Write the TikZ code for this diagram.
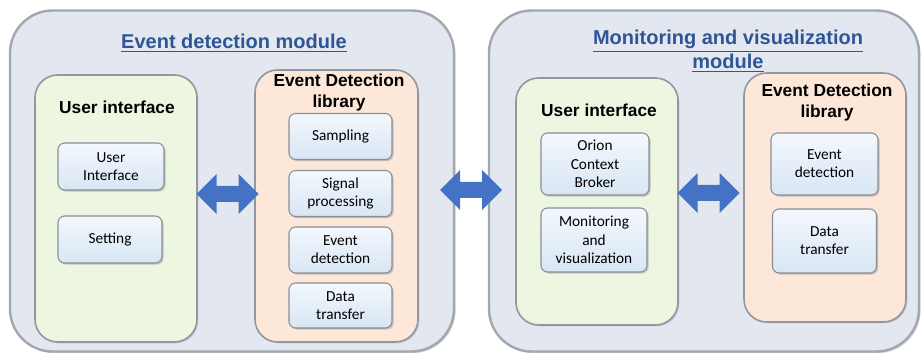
\documentclass[tikz,border=0pt]{standalone}
\usepackage{fontspec}
\setmainfont{Carlito}
\newfontfamily\arialf{Liberation Sans}
\usetikzlibrary{shadows}
\definecolor{outerfill}{HTML}{E3E8F0}
\definecolor{outerdraw}{HTML}{A3A8AF}
\definecolor{greenfill}{HTML}{EDF6E1}
\definecolor{orangefill}{HTML}{FCE7D9}
\definecolor{innertop}{HTML}{F3F8FD}
\definecolor{innerbot}{HTML}{D8E6F4}
\definecolor{innerdraw}{HTML}{8A8F96}
\definecolor{titleblue}{HTML}{2F5597}
\definecolor{arrowblue}{HTML}{4472C4}
\tikzset{
  module/.style={draw=outerdraw, line width=1.8pt, fill=outerfill, rounded corners=32pt,
    drop shadow={shadow xshift=1.2pt, shadow yshift=-1.2pt, opacity=0.35}},
  group/.style={draw=outerdraw!90!black, line width=1.2pt, rounded corners=17pt,
    drop shadow={shadow xshift=1pt, shadow yshift=-1pt, opacity=0.3}},
  uigroup/.style={group, fill=greenfill},
  libgroup/.style={group, fill=orangefill},
  item/.style={draw=innerdraw, line width=0.8pt, rounded corners=5pt, top color=innertop,
    bottom color=innerbot, align=center, inner sep=0pt,
    font=\fontsize{11.5pt}{13.7pt}\selectfont,
    drop shadow={shadow xshift=1.2pt, shadow yshift=-1.2pt, opacity=0.4}},
  modtitle/.style={align=center, text=titleblue, font=\arialf\bfseries\fontsize{15pt}{18pt}\selectfont},
  grptitle/.style={align=center, text=black, font=\arialf\bfseries\fontsize{13pt}{15.75pt}\selectfont},
  bigarrow/.style={fill=arrowblue, draw=none}
}
\begin{document}
\begin{tikzpicture}[x=0.75pt,y=-0.75pt]
\useasboundingbox (0,0) rectangle (922,356);
% modules
\node[module, minimum width=444*0.75pt, minimum height=341*0.75pt] (m1) at (232,181) {};
\node[module, minimum width=430*0.75pt, minimum height=341*0.75pt] (m2) at (704,181) {};
\node[modtitle] (t1) at (234,43) {\underline{Event detection module}};
\node[modtitle] (t2) at (728,51) {\underline{Monitoring and visualization}\\\underline{module}};
% groups
\node[uigroup, minimum width=162*0.75pt, minimum height=267*0.75pt] (g1) at (116,208.5) {};
\node[libgroup, minimum width=163*0.75pt, minimum height=272*0.75pt] (g2) at (336.5,206) {};
\node[uigroup, minimum width=162*0.75pt, minimum height=247*0.75pt] (g3) at (597,201.5) {};
\node[libgroup, minimum width=162*0.75pt, minimum height=249*0.75pt] (g4) at (825,197.5) {};
\node[grptitle] (gt1) at (117,107) {User interface};
\node[grptitle] (gt2) at (339,93) {Event Detection\\library};
\node[grptitle] (gt3) at (599,110) {User interface};
\node[grptitle] (gt4) at (827,103) {Event Detection\\library};
% items
\node[item, minimum width=106*0.75pt, minimum height=47*0.75pt] (i1) at (111,166.5) {User\\Interface};
\node[item, minimum width=104*0.75pt, minimum height=47*0.75pt] (i2) at (110,239.5) {Setting};
\node[item, minimum width=103*0.75pt, minimum height=46*0.75pt] (i3) at (340.5,136.5) {Sampling};
\node[item, minimum width=103*0.75pt, minimum height=46*0.75pt] (i4) at (340.5,193.5) {Signal\\processing};
\node[item, minimum width=103*0.75pt, minimum height=46*0.75pt] (i5) at (340.5,250) {Event\\detection};
\node[item, minimum width=103*0.75pt, minimum height=45*0.75pt] (i6) at (340.5,305.5) {Data\\transfer};
\node[item, minimum width=108*0.75pt, minimum height=62*0.75pt] (i7) at (595,164) {Orion\\Context\\Broker};
\node[item, minimum width=106*0.75pt, minimum height=64*0.75pt] (i8) at (594,240) {Monitoring\\and\\visualization};
\node[item, minimum width=107*0.75pt, minimum height=62*0.75pt] (i9) at (824.5,164) {Event\\detection};
\node[item, minimum width=104*0.75pt, minimum height=64*0.75pt] (i10) at (824.5,241) {Data\\transfer};
% arrows
\coordinate (a1) at (227.5,194);
\coordinate (a2) at (471,190);
\coordinate (a3) at (708.5,193);
\foreach \c in {a1,a2,a3}{
  \fill[bigarrow] (\c) ++(-31,0) -- ++(20,-20) -- ++(0,12) -- ++(22,0) -- ++(0,-12)
    -- ++(20,20) -- ++(-20,20) -- ++(0,-12) -- ++(-22,0) -- ++(0,12) -- cycle;
}
\end{tikzpicture}
\end{document}
